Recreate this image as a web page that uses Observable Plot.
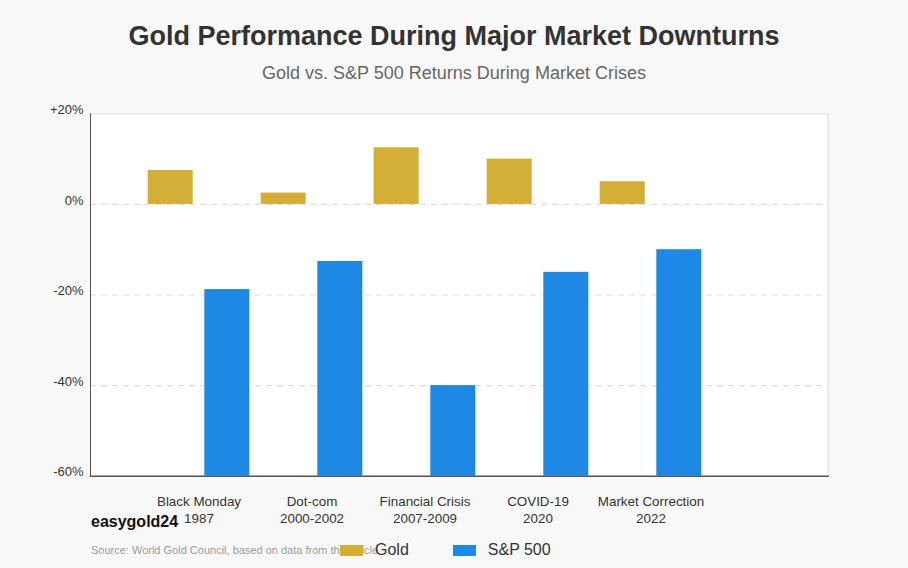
<!DOCTYPE html>
<html>
<head>
<meta charset="utf-8">
<script src="https://cdn.jsdelivr.net/npm/d3@7"></script>
<script src="https://cdn.jsdelivr.net/npm/@observablehq/plot@0.6"></script>
<style>
  body { margin: 0; background: #f9f9f9; font-family: "Liberation Sans", Arial, sans-serif; }
  #wrap { position: relative; width: 908px; height: 568px; overflow: hidden; background: #f9f9f9; }
  .title { position: absolute; left: 0; width: 908px; top: 22.5px; line-height: 1; text-align: center; font-weight: bold; font-size: 27px; color: #333; }
  .subtitle { position: absolute; left: 0; width: 908px; top: 64px; line-height: 1; text-align: center; font-size: 18px; color: #666; }
  #chart { position: absolute; left: 0; top: 90px; }
  .brand { position: absolute; left: 91px; top: 514px; line-height: 1; font-weight: bold; font-size: 16px; color: #111; }
  .source { position: absolute; left: 91px; top: 545px; line-height: 1; font-size: 11px; color: #999; }
  .legend { position: absolute; left: 340px; top: 542px; line-height: 1; font-size: 16px; color: #333; display: flex; align-items: center; }
  .sw { display: inline-block; width: 23px; height: 11px; margin-right: 12px; }
  .item { display: flex; align-items: center; margin-right: 44px; }
</style>
</head>
<body>
<div id="wrap">
  <div class="title">Gold Performance During Major Market Downturns</div>
  <div class="subtitle">Gold vs. S&amp;P 500 Returns During Market Crises</div>
  <div id="chart"></div>
  <div class="brand">easygold24</div>
  <div class="source">Source: World Gold Council, based on data from the article</div>
  <div class="legend" id="legend"></div>
</div>
<script>
// ---- data ----
const crises = ["Black Monday", "Dot-com", "Financial Crisis", "COVID-19", "Market Correction"];
const periods = ["1987", "2000-2002", "2007-2009", "2020", "2022"];
const goldReturns = [7.5, 2.5, 12.5, 10, 5];
const spReturns = [-18.8, -12.6, -40, -15, -10];
const seriesNames = ["Gold", "S&P 500"];
const seriesColors = ["#D4AF37", "#1E88E5"];
const yTicks = [20, 0, -20, -40, -60];
const yDomain = [-60, 20];

const goldData = crises.map((c, i) => ({crisis: c, value: goldReturns[i]}));
const spData = crises.map((c, i) => ({crisis: c, value: spReturns[i]}));

const W = 908, H = 450;
const mL = 90, mR = 80.4, mT = 23.3, mB = 64.3;
const padOuter = 0.755, align = 0.302;
const bw = (W - mL - mR) / (crises.length + 2 * padOuter);
const slot = bw / 2;
const inner = slot * 0.1;

const chart = Plot.plot({
  width: W,
  height: H,
  marginLeft: mL,
  marginRight: mR,
  marginTop: mT,
  marginBottom: mB,
  style: { background: "transparent", fontFamily: "'Liberation Sans', Arial, sans-serif" },
  x: { type: "band", domain: crises, paddingInner: 0, paddingOuter: padOuter, align: align, label: null },
  y: { domain: yDomain, label: null },
  marks: [
    Plot.frame({ fill: "white", stroke: "#dcdcdc" }),
    Plot.ruleY([0, -20, -40], { stroke: "#dddddd", strokeWidth: 1.2, strokeDasharray: "6,5" }),
    Plot.barY(goldData, { x: "crisis", y: "value", fill: seriesColors[0], insetLeft: inner, insetRight: slot + inner }),
    Plot.barY(spData, { x: "crisis", y1: yDomain[0], y2: "value", fill: seriesColors[1], insetLeft: slot + inner, insetRight: inner }),
    Plot.frame({ anchor: "left", stroke: "#555" }),
    Plot.frame({ anchor: "bottom", stroke: "#555", strokeWidth: 1.5 }),
    Plot.axisY({ ticks: yTicks, tickSize: 0, tickPadding: 7, dy: -4, fontSize: 13, fill: "#333",
      tickFormat: d => (d > 0 ? "+" : "") + d + "%" }),
    Plot.axisX({ tickSize: 0, tickPadding: 18, fontSize: 13.4, fill: "#333", lineHeight: 1.25,
      tickFormat: (d) => d + "\n" + periods[crises.indexOf(d)] })
  ]
});
document.getElementById("chart").appendChild(chart);

const legend = document.getElementById("legend");
seriesNames.forEach((name, i) => {
  const item = document.createElement("div");
  item.className = "item";
  const sw = document.createElement("span");
  sw.className = "sw";
  sw.style.background = seriesColors[i];
  item.appendChild(sw);
  item.appendChild(document.createTextNode(name));
  legend.appendChild(item);
});
</script>
</body>
</html>
